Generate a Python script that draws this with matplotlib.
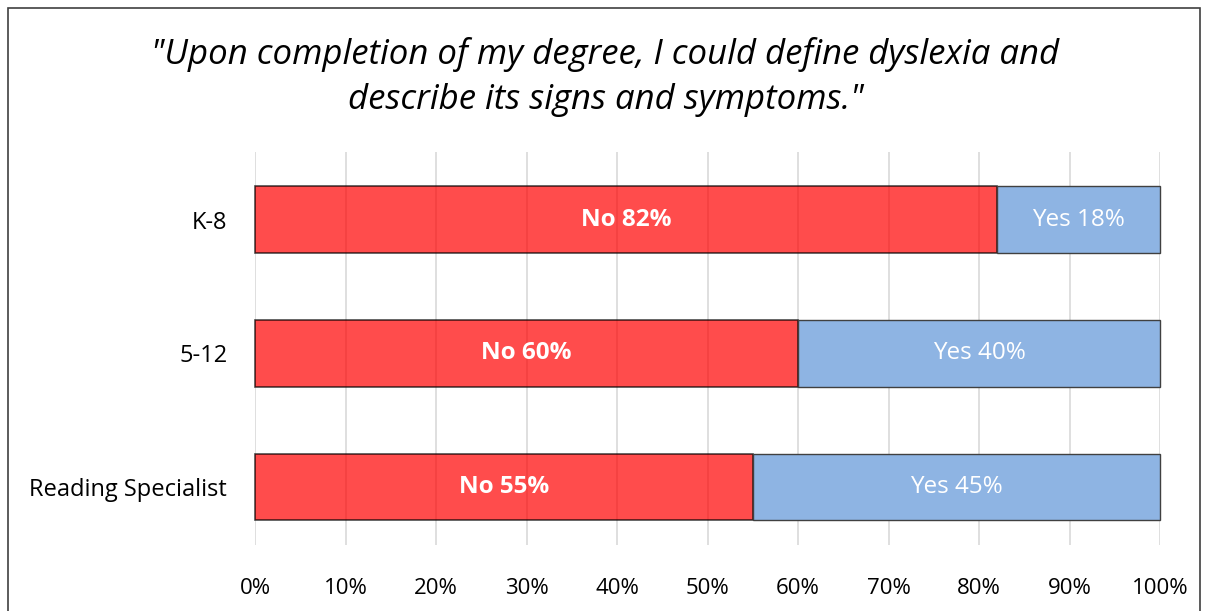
import numpy as np
import matplotlib.pyplot as plt
from matplotlib.patches import Rectangle

categories = ['K-8', '5-12', 'Reading Specialist']
no_vals = [82, 60, 55]
yes_vals = [18, 40, 45]
x_ticks = [0, 10, 20, 30, 40, 50, 60, 70, 80, 90, 100]

plt.rcParams['font.family'] = ['Open Sans', 'DejaVu Sans']

fig = plt.figure(figsize=(12.11, 6.11), dpi=100)
ax = fig.add_axes([255 / 1211, 1 - 545 / 611, 905 / 1211, 393 / 611])

y = np.arange(len(categories))
ax.barh(y, no_vals, height=0.5, color='#FF0000', alpha=0.7,
        edgecolor='black', linewidth=1.2, zorder=3, clip_on=False)
ax.barh(y, yes_vals, left=no_vals, height=0.5, color='#8EB4E3',
        edgecolor='#404040', linewidth=1.0, zorder=3, clip_on=False)

for i in range(len(categories)):
    ax.text(no_vals[i] / 2, y[i], f'No {no_vals[i]}%', ha='center', va='center',
            color='white', fontsize=17.5, fontweight='bold', zorder=4)
    ax.text(no_vals[i] + yes_vals[i] / 2, y[i], f'Yes {yes_vals[i]}%', ha='center',
            va='center', color='white', fontsize=17.5, zorder=4)

ax.set_xlim(0, 100)
ax.set_ylim(2.434, -0.506)
ax.set_yticks(y)
ax.set_yticklabels(categories, fontsize=17)
ax.set_xticks(x_ticks)
ax.set_xticklabels([f'{t}%' for t in x_ticks], fontsize=16)
ax.tick_params(length=0)
ax.tick_params(axis='x', pad=24)
ax.tick_params(axis='y', pad=20)
ax.grid(axis='x', color='#D9D9D9', linewidth=1.2, zorder=0)
for s in ax.spines.values():
    s.set_visible(False)

fig.text(0.5, 1 - 77 / 611, '"Upon completion of my degree, I could define dyslexia and\ndescribe its signs and symptoms."',
         ha='center', va='center', fontsize=25, style='italic', linespacing=1.45)

fig.patches.append(Rectangle((8 / 1211, -0.1), 1192 / 1211, 1.1 - 8 / 611,
                             transform=fig.transFigure, fill=False,
                             edgecolor='#404040', linewidth=1.2))

fig.savefig('out.png', dpi=100)
